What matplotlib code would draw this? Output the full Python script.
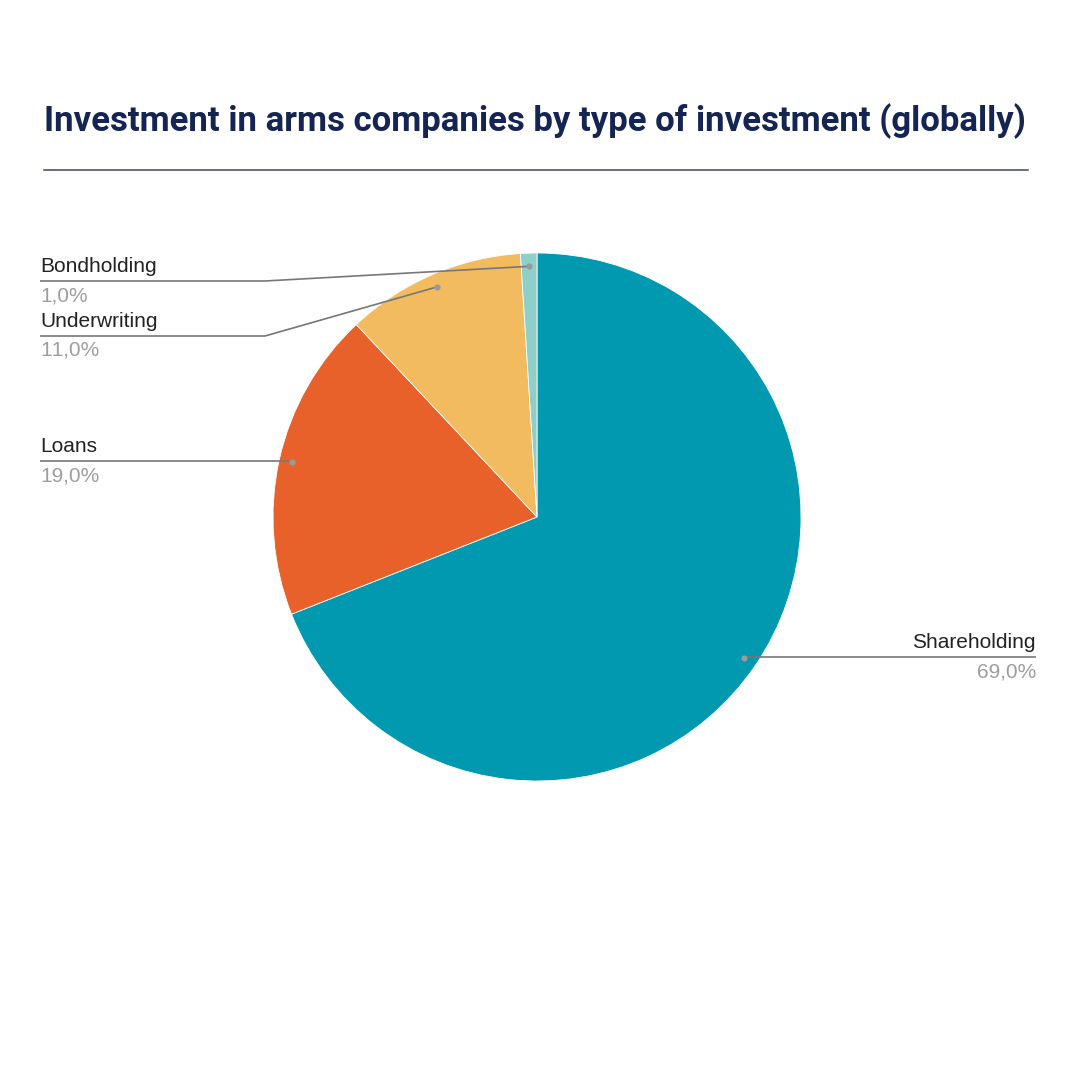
import numpy as np
import matplotlib.pyplot as plt

plt.rcParams['font.family'] = ['Roboto', 'DejaVu Sans']
plt.rcParams['text.kerning_factor'] = 10

# data
categories = ['Shareholding', 'Loans', 'Underwriting', 'Bondholding']
shares = [69.0, 19.0, 11.0, 1.0]
colors = ['#0099b0', '#e8602a', '#f2bb5f', '#8ecfc9']

title = 'Investment in arms companies by type of investment (globally)'

H = 1080
fig = plt.figure(figsize=(10.8, 10.8), dpi=100)
ax = fig.add_axes([0, 0, 1, 1])
ax.set_xlim(0, H)
ax.set_ylim(0, H)
ax.axis('off')

cx, cy, R = 537, H - 517, 264
wedges, _ = ax.pie(shares, colors=colors, startangle=90, counterclock=False,
                   center=(cx, cy), radius=R,
                   wedgeprops=dict(edgecolor='white', linewidth=0.6))
ax.set_xlim(0, H)
ax.set_ylim(0, H)
ax.set_aspect('equal')

# title and rule
fig.text(535 / H, 1 - 121 / H, title, ha='center', va='center',
         fontsize=25, fontweight='bold', color='#142553')
ax.plot([44, 1028], [H - 170, H - 170], color='#3b4763', lw=1.1)

# leader lines: (elbow x, line y in px from top, side)
layout = {
    'Shareholding': (None, 657, 'right'),
    'Loans': (None, 461, 'left'),
    'Underwriting': (265, 336, 'left'),
    'Bondholding': (265, 281, 'left'),
}

lab_font = ['Liberation Sans', 'DejaVu Sans']
for w, name, val in zip(wedges, categories, shares):
    mid = np.deg2rad((w.theta1 + w.theta2) / 2)
    px = cx + 0.95 * R * np.cos(mid)
    py = cy + 0.95 * R * np.sin(mid)
    elbow, ly, side = layout[name]
    ly = H - ly
    end = 40 if side == 'left' else 1036
    if elbow is None:
        xs, ys = [px, end], [ly, ly]
    else:
        xs, ys = [px, elbow, end], [py, ly, ly]
    ax.plot(xs, ys, color='#777777', lw=1.2, solid_capstyle='butt')
    ax.plot(px, py, 'o', ms=4.5, color='#9a9a9a', mec='none')
    ha = 'left' if side == 'left' else 'right'
    ax.text(end, ly + 5, name, ha=ha, va='bottom', fontsize=15,
            color='#222222', family=lab_font)
    ax.text(end, ly - 5, f'{val:.1f}%'.replace('.', ','), ha=ha, va='top',
            fontsize=15, color='#9e9e9e', family=lab_font)

fig.savefig('out.png', dpi=100, facecolor='white')
